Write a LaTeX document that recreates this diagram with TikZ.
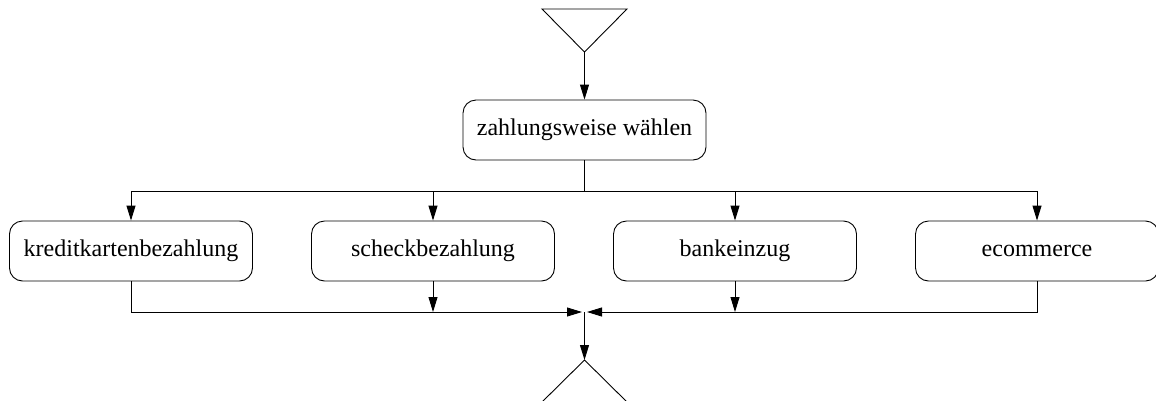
\documentclass[tikz,border=0pt]{standalone}
\usepackage{fontspec}
\setmainfont{Liberation Serif}
\usetikzlibrary{arrows.meta}
\begin{document}
\begin{tikzpicture}[x=1pt,y=-1pt,
  actbox/.style={draw,line width=0.9pt,rounded corners=13pt,minimum width=243pt,minimum height=60pt,inner sep=0pt,font=\fontsize{24}{28}\selectfont},
  flow/.style={line width=0.9pt},
  arr/.style={flow,-{Triangle[length=15pt,width=9pt]}},
  tri/.style={line width=0.9pt}]
\useasboundingbox (0,0) rectangle (1156,400);
% start symbol
\draw[tri] (542,9) -- (627,9) -- (584.5,52) -- cycle;
\coordinate (st) at (584.5,52);
\node[actbox] (z) at (584.5,130) {zahlungsweise wählen};
\draw[arr] (st) -- (z.north);
\coordinate (fork) at (584.5,191);
\node[actbox] (k) at (131,251) {kreditkartenbezahlung};
\node[actbox] (s) at (433,251) {scheckbezahlung};
\node[actbox] (b) at (735,251) {bankeinzug};
\node[actbox] (e) at (1037,251) {ecommerce};
\draw[flow] (z.south) -- (fork);
\draw[flow] (k.north |- fork) -- (e.north |- fork);
\foreach \n in {k,s,b,e} {\draw[arr] (\n.north |- fork) -- (\n.north);}
% join
\coordinate (j) at (584.5,312);
\coordinate (jl) at (582,312);
\coordinate (jr) at (587,312);
\draw[arr] (k.south) |- (jl);
\draw[arr] (e.south) |- (jr);
\draw[arr] (s.south) -- (s.south |- j);
\draw[arr] (b.south) -- (b.south |- j);
\coordinate (en) at (584.5,360);
\draw[arr] (j) -- (en);
\draw[tri] (541,403) -- (en) -- (628,403);
\end{tikzpicture}
\end{document}
